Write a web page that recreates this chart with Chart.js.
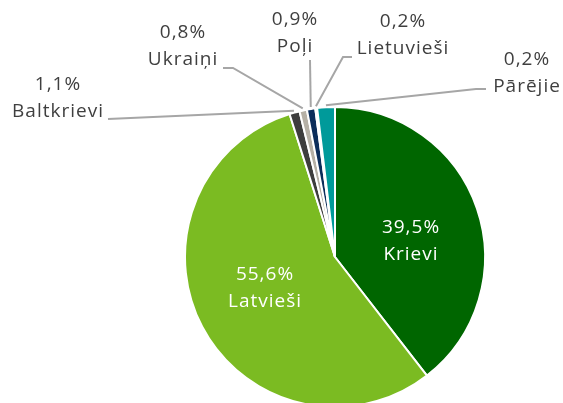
<!DOCTYPE html>
<html>
<head>
<meta charset="utf-8">
<script src="https://cdn.jsdelivr.net/npm/chart.js@4"></script>
<style>
  html, body { margin: 0; padding: 0; background: #fff; }
  #chart { display: block; }
</style>
</head>
<body>
<canvas id="chart" width="563" height="403"></canvas>
<script>
// Data
const groups = ['Krievi', 'Latvieši', 'Baltkrievi', 'Ukraiņi', 'Poļi', 'Lietuvieši', 'Pārējie'];
const shares = [39.5, 55.6, 1.1, 0.8, 0.9, 0.2, 1.9];
const shareLabels = ['39,5%', '55,6%', '1,1%', '0,8%', '0,9%', '0,2%', '0,2%'];
const sliceColors = ['#006600', '#7bbb22', '#3d3d3d', '#b5b0a6', '#0b2d5a', '#8fa8b8', '#009a9a'];

// Where each label sits (text centre) and how its leader line bends
const labelSpots = [
  { inside: true, x: 411, y: 228 },
  { inside: true, x: 265, y: 275 },
  { x: 58, y: 85, line: [[108, 119]] },
  { x: 183, y: 33, line: [[223, 68], [233, 68]] },
  { x: 295, y: 20, line: [[310, 60]] },
  { x: 403, y: 22, line: [[352, 57], [343, 57]] },
  { x: 527, y: 60, line: [[486, 89], [476, 89]] }
];

const labelPlugin = {
  id: 'sliceLabels',
  afterDatasetsDraw(chart) {
    const ctx = chart.ctx;
    const arcs = chart.getDatasetMeta(0).data;
    ctx.save();
    ctx.font = '19px "Open Sans", sans-serif';
    ctx.letterSpacing = '1px';
    ctx.textAlign = 'center';
    ctx.textBaseline = 'middle';
    arcs.forEach((arc, i) => {
      const spot = labelSpots[i];
      if (spot.inside) {
        ctx.fillStyle = '#ffffff';
      } else {
        // leader line from text to slice edge
        const { x, y, startAngle, endAngle, outerRadius } = arc.getProps(['x', 'y', 'startAngle', 'endAngle', 'outerRadius'], true);
        const mid = (startAngle + endAngle) / 2;
        const ex = x + Math.cos(mid) * (outerRadius + 2);
        const ey = y + Math.sin(mid) * (outerRadius + 2);
        ctx.strokeStyle = '#a6a6a6';
        ctx.lineWidth = 2;
        ctx.beginPath();
        spot.line.forEach((p, k) => k === 0 ? ctx.moveTo(p[0], p[1]) : ctx.lineTo(p[0], p[1]));
        ctx.lineTo(ex, ey);
        ctx.stroke();
        ctx.fillStyle = '#3f3f3f';
      }
      ctx.fillText(shareLabels[i], spot.x, spot.y);
      ctx.fillText(groups[i], spot.x, spot.y + 27);
    });
    ctx.restore();
  }
};

new Chart(document.getElementById('chart'), {
  type: 'pie',
  data: {
    labels: groups,
    datasets: [{
      data: shares,
      backgroundColor: sliceColors,
      borderColor: '#ffffff',
      borderWidth: 2,
      radius: 150
    }]
  },
  options: {
    responsive: false,
    animation: false,
    layout: { padding: { left: 185, right: 78, top: 111, bottom: 0 } },
    plugins: {
      legend: { display: false },
      tooltip: { enabled: false }
    }
  },
  plugins: [labelPlugin]
});
</script>
</body>
</html>
